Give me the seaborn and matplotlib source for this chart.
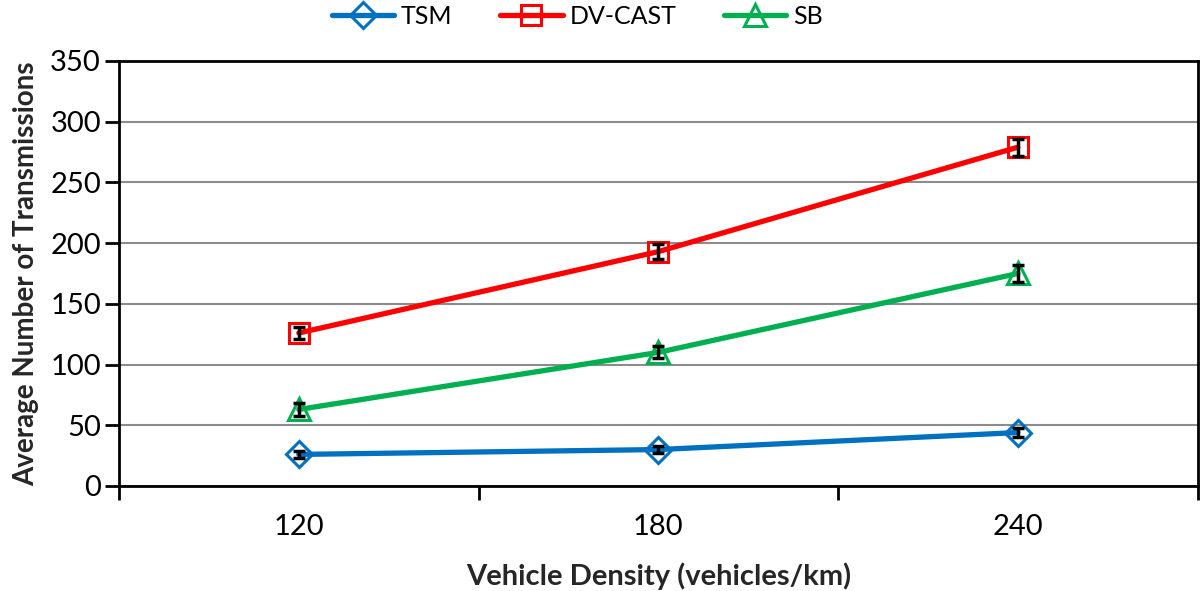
import pandas as pd
import numpy as np
import matplotlib.pyplot as plt
import seaborn as sns

# Data
density = ["120", "180", "240"]
tsm = [26, 30, 44]
tsm_err = [3, 3, 4]
dvcast = [126, 193, 279]
dvcast_err = [5, 6, 7]
sb = [63, 110, 175]
sb_err = [5, 5, 7]

series = ["TSM", "DV-CAST", "SB"]
colors = {"TSM": "#0070C0", "DV-CAST": "#FF0000", "SB": "#00B050"}
markers = {"TSM": "D", "DV-CAST": "s", "SB": "^"}
msizes = {"TSM": 13, "DV-CAST": 15, "SB": 16}

df = pd.DataFrame({
    "Density": density * 3,
    "Value": tsm + dvcast + sb,
    "Err": tsm_err + dvcast_err + sb_err,
    "Scheme": ["TSM"] * 3 + ["DV-CAST"] * 3 + ["SB"] * 3,
})

sns.set_style("white")
plt.rcParams["font.family"] = ["Lato", "DejaVu Sans"]
plt.rcParams["ytick.left"] = True
plt.rcParams["xtick.bottom"] = True

fig = plt.figure(figsize=(12, 5.91), dpi=100)
ax = fig.add_axes([0.0992, 0.1777, 0.8988, 0.7191])

for name in series:
    sub = df[df["Scheme"] == name]
    sns.lineplot(data=sub, x="Density", y="Value", ax=ax, color=colors[name],
                 linewidth=3.8, marker=markers[name], markersize=msizes[name],
                 markerfacecolor="none", markeredgecolor=colors[name],
                 markeredgewidth=2.2, label=name, zorder=2)
    ax.errorbar(sub["Density"], sub["Value"], yerr=sub["Err"], fmt="none",
                ecolor="black", elinewidth=2.5, capsize=4, capthick=2.5, zorder=3)

ax.set_xlim(-0.5, 2.5)
ax.set_ylim(0, 350)
ax.set_yticks(np.arange(0, 351, 50))
ax.yaxis.grid(True, color="#8c8c8c", linewidth=1.5)
ax.xaxis.grid(False)
for s in ax.spines.values():
    s.set_color("black")
    s.set_linewidth(2)

ax.set_xticks([0, 1, 2])
ax.set_xticks([-0.5, 0.5, 1.5, 2.5], minor=True)
ax.tick_params(axis="x", which="major", bottom=True, length=0, labelsize=21, pad=20, colors="black")
ax.tick_params(axis="x", which="minor", bottom=True, length=10, width=2, direction="out", color="black")
ax.tick_params(axis="y", which="major", left=True, length=10, width=2, direction="out",
               labelsize=21, color="black", labelcolor="black", pad=3)

ax.set_xlabel("Vehicle Density (vehicles/km)", fontsize=21, fontweight="bold", labelpad=16)
ax.set_ylabel("Average Number of Transmissions", fontsize=20, fontweight="bold", labelpad=8)

handles, labels = ax.get_legend_handles_labels()
ax.legend(handles[:3], labels[:3], loc="center", bbox_to_anchor=(0.425, 1.105),
          ncol=3, frameon=False, fontsize=18, handlelength=2.5, columnspacing=1.9,
          handletextpad=0.28, borderaxespad=0.0, labelcolor="black")

fig.savefig("out.png", dpi=100)
